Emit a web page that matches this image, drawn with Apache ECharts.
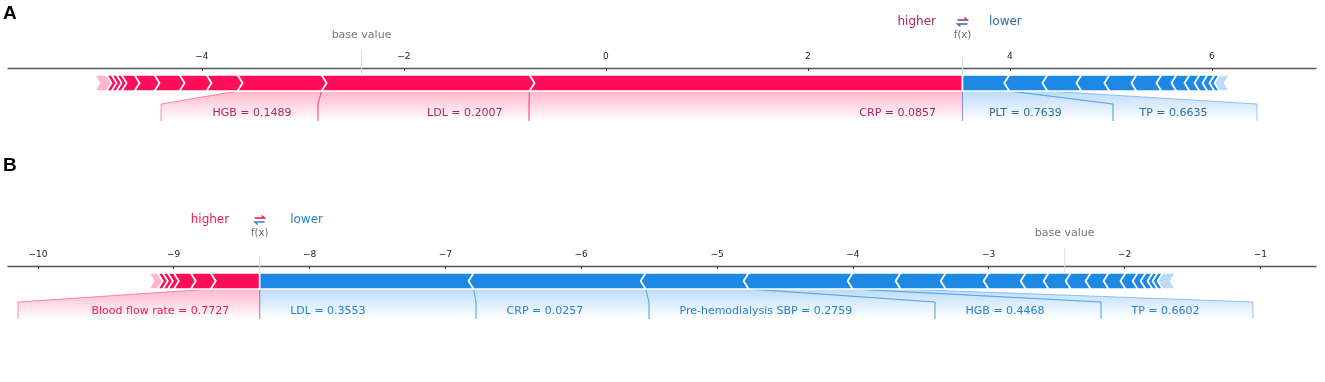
<!DOCTYPE html>
<html>
<head>
<meta charset="utf-8">
<script src="https://cdn.jsdelivr.net/npm/echarts@6/dist/echarts.min.js"></script>
<style>
  html, body { margin: 0; padding: 0; background: #fff; }
  #chart { width: 1325px; height: 382px; }
</style>
</head>
<body>
<div id="chart"></div>
<script>
// ---- panel A ----
var baseA = -2.42;
var rangeA = [-5.92, 7.03];
var ticksA = [-4, -2, 0, 2, 4, 6];
// red (push higher), ordered from f(x) outwards
var redNamesA = ['CRP = 0.0857', 'LDL = 0.2007', 'HGB = 0.1489'];
var redValuesA = [4.287, 2.059, 0.832, 0.307, 0.267, 0.248, 0.198, 0.128, 0.050, 0.049, 0.050, 0.119];
var redLabelLeftA = [-0.762, -2.851, -4.405];
// blue (push lower)
var blueNamesA = ['PLT = 0.7639', 'TP = 0.6635'];
var blueValuesA = [0.464, 0.377, 0.337, 0.277, 0.268, 0.247, 0.149, 0.129, 0.099, 0.079, 0.069, 0.050, 0.099];
var blueLabelRightA = [5.020, 6.446];

// ---- panel B ----
var baseB = -2.44;
var rangeB = [-10.22, -0.59];
var ticksB = [-10, -9, -8, -7, -6, -5, -4, -3, -2, -1];
var redNamesB = ['Blood flow rate = 0.7727'];
var redValuesB = [0.361, 0.147, 0.125, 0.044, 0.037, 0.037, 0.066];
var redLabelLeftB = [-10.146];
var blueNamesB = ['LDL = 0.3553', 'CRP = 0.0257', 'Pre-hemodialysis SBP = 0.2759', 'HGB = 0.4468', 'TP = 0.6602'];
var blueValuesB = [1.575, 1.267, 0.758, 0.766, 0.353, 0.332, 0.316, 0.273, 0.169, 0.162, 0.147, 0.132, 0.125, 0.089, 0.059, 0.051, 0.037, 0.037, 0.096];
var blueLabelRightB = [-6.774, -5.501, -3.395, -2.173, -1.054];

var RED = '#ff0d57', BLUE = '#1e88e5';
var RED_FADE = '#ffb6cd', BLUE_FADE = '#bbdbf7';
// vertical offsets (px below the axis line)
var BAR_TOP = 7, BAR_BOT = 23, CONN = 36, BOX_BOT = 53, TEXT_Y = 45, TIP = 5;

function sum(a) {
  return a.reduce(function (s, v) { return s + v; }, 0);
}
function rgba(hex, a) {
  var n = parseInt(hex.slice(1), 16);
  return 'rgba(' + (n >> 16) + ',' + ((n >> 8) & 255) + ',' + (n & 255) + ',' + a + ')';
}

var panels = [
  {
    base: baseA, fx: baseA + sum(redValuesA) - sum(blueValuesA),
    redNames: redNamesA, redValues: redValuesA, redLabelLeft: redLabelLeftA,
    blueNames: blueNamesA, blueValues: blueValuesA, blueLabelRight: blueLabelRightA,
    textRed: '#a8285f', textBlue: '#2b6ea3', arrowRed: '#b0285f', arrowBlue: '#2b6ea3', pad: 26.5
  },
  {
    base: baseB, fx: baseB + sum(redValuesB) - sum(blueValuesB),
    redNames: redNamesB, redValues: redValuesB, redLabelLeft: redLabelLeftB,
    blueNames: blueNamesB, blueValues: blueValuesB, blueLabelRight: blueLabelRightB,
    textRed: '#eb195a', textBlue: '#2882d2', arrowRed: RED, arrowBlue: BLUE, pad: 30.5
  }
];

// bar segments: [lo, hi, side, idx, faded]
function buildSegments(p) {
  var out = [], x = p.fx;
  p.redValues.forEach(function (v, i) {
    out.push([x - v, x, 1, i, i === p.redValues.length - 1 ? 1 : 0]);
    x -= v;
  });
  x = p.fx;
  p.blueValues.forEach(function (v, i) {
    out.push([x, x + v, -1, i, i === p.blueValues.length - 1 ? 1 : 0]);
    x += v;
  });
  return out;
}

// label boxes: [segLo, segHi, boxLo, boxHi, side, idx]
function buildLabels(p) {
  var out = [], x = p.fx;
  p.redNames.forEach(function (n, k) {
    var v = p.redValues[k];
    out.push([x - v, x, p.redLabelLeft[k], k === 0 ? p.fx : p.redLabelLeft[k - 1], 1, k]);
    x -= v;
  });
  x = p.fx;
  p.blueNames.forEach(function (n, k) {
    var v = p.blueValues[k];
    out.push([x, x + v, k === 0 ? p.fx : p.blueLabelRight[k - 1], p.blueLabelRight[k], -1, k]);
    x += v;
  });
  return out;
}

function barItem(p) {
  return function (params, api) {
    var lo = api.value(0), hi = api.value(1), side = api.value(2), idx = api.value(3), faded = api.value(4);
    var xl = api.coord([lo, BAR_TOP])[0], xr = api.coord([hi, BAR_TOP])[0];
    var yt = api.coord([lo, BAR_TOP])[1], yb = api.coord([lo, BAR_BOT])[1], ym = (yt + yb) / 2;
    var pts;
    if (side > 0) {
      pts = [[xl, yt], [xr, yt]];
      if (idx > 0) pts.push([xr + TIP, ym]);
      pts.push([xr, yb], [xl, yb], [xl + TIP, ym]);
    } else {
      pts = [[xl, yt], [xr, yt], [xr - TIP, ym], [xr, yb], [xl, yb]];
      if (idx > 0) pts.push([xl - TIP, ym]);
    }
    var fill = side > 0 ? (faded ? RED_FADE : RED) : (faded ? BLUE_FADE : BLUE);
    return {
      type: 'polygon',
      shape: { points: pts },
      style: { fill: fill, stroke: '#fff', lineWidth: 1.6, lineJoin: 'miter' }
    };
  };
}

function labelItem(p) {
  return function (params, api) {
    var segLo = api.value(0), segHi = api.value(1), boxLo = api.value(2), boxHi = api.value(3);
    var side = api.value(4), k = api.value(5);
    function P(x, y) { return api.coord([x, y]); }
    var color = side > 0 ? RED : BLUE;
    var a1 = P(segLo, BAR_BOT), a2 = P(segHi, BAR_BOT);
    var b1 = P(boxLo, CONN), b2 = P(boxHi, CONN);
    var c1 = P(boxLo, BOX_BOT), c2 = P(boxHi, BOX_BOT);
    var name = side > 0 ? p.redNames[k] : p.blueNames[k];
    var lineStyle = { stroke: rgba(color, 0.45), lineWidth: 1, fill: null };
    return {
      type: 'group',
      children: [
        {
          type: 'polygon',
          shape: { points: [a1, a2, b2, c2, c1, b1] },
          style: {
            fill: new echarts.graphic.LinearGradient(0, 0, 0, 1, [
              { offset: 0, color: rgba(color, 0.3) },
              { offset: 1, color: rgba(color, 0) }
            ])
          }
        },
        { type: 'polyline', shape: { points: [a1, b1, c1] }, style: lineStyle },
        { type: 'polyline', shape: { points: [a2, b2, c2] }, style: lineStyle },
        {
          type: 'text',
          x: side > 0 ? c2[0] - p.pad : c1[0] + p.pad,
          y: P(0, TEXT_Y)[1],
          style: {
            text: name, fill: side > 0 ? p.textRed : p.textBlue,
            fontSize: 11, fontFamily: 'DejaVu Sans',
            align: side > 0 ? 'right' : 'left', verticalAlign: 'middle'
          }
        }
      ]
    };
  };
}

function annoItem(p) {
  return function (params, api) {
    var fx = api.value(0), base = api.value(1);
    var xf = api.coord([fx, 0])[0], xb = api.coord([base, 0])[0];
    function Y(v) { return api.coord([fx, v])[1]; }
    var font = 'DejaVu Sans';
    return {
      type: 'group',
      children: [
        { type: 'line', shape: { x1: xb, y1: Y(-18), x2: xb, y2: Y(6) }, style: { stroke: '#dcdcdc', lineWidth: 1 } },
        { type: 'text', x: xb, y: Y(-33), style: { text: 'base value', fill: '#777', fontSize: 11, fontFamily: font, align: 'center', verticalAlign: 'middle' } },
        { type: 'line', shape: { x1: xf, y1: Y(-10), x2: xf, y2: Y(7) }, style: { stroke: '#dcdcdc', lineWidth: 1 } },
        { type: 'text', x: xf, y: Y(-33), style: { text: 'f(x)', fill: '#666', fontSize: 10, fontFamily: font, align: 'center', verticalAlign: 'middle' } },
        { type: 'text', x: xf - p.pad, y: Y(-46), style: { text: 'higher', fill: p.textRed, fontSize: 12, fontFamily: font, align: 'right', verticalAlign: 'middle' } },
        { type: 'text', x: xf + p.pad, y: Y(-46), style: { text: 'lower', fill: p.textBlue, fontSize: 12, fontFamily: font, align: 'left', verticalAlign: 'middle' } },
        // the little ⇄ sign
        { type: 'polyline', shape: { points: [[xf - 5, Y(-48)], [xf + 5, Y(-48)], [xf + 2, Y(-50.5)]] }, style: { stroke: p.arrowRed, lineWidth: 1.3, fill: null } },
        { type: 'polyline', shape: { points: [[xf + 5, Y(-44)], [xf - 5, Y(-44)], [xf - 2, Y(-41.5)]] }, style: { stroke: p.arrowBlue, lineWidth: 1.3, fill: null } }
      ]
    };
  };
}

function minusFmt(v) {
  return String(v).replace('-', '\u2212');
}

function makeXAxis(i, range, ticks) {
  return {
    gridIndex: i, type: 'value', position: 'top', min: range[0], max: range[1],
    axisLine: { onZero: false, lineStyle: { color: '#555', width: 1.3 } },
    axisTick: { inside: true, length: 3, customValues: ticks, lineStyle: { color: '#333' } },
    axisLabel: { customValues: ticks, formatter: minusFmt, fontSize: 9, color: '#222', margin: 7, fontFamily: 'DejaVu Sans' },
    splitLine: { show: false }
  };
}

var series = [];
panels.forEach(function (p, i) {
  series.push({ type: 'custom', xAxisIndex: i, yAxisIndex: i, renderItem: labelItem(p), data: buildLabels(p), silent: true, z: 1 });
  series.push({ type: 'custom', xAxisIndex: i, yAxisIndex: i, renderItem: barItem(p), data: buildSegments(p), silent: true, z: 2 });
  series.push({ type: 'custom', xAxisIndex: i, yAxisIndex: i, renderItem: annoItem(p), data: [[p.fx, p.base]], silent: true, z: 3 });
});

var chart = echarts.init(document.getElementById('chart'));
chart.setOption({
  animation: false,
  backgroundColor: '#fff',
  grid: [
    { left: 8, right: 9, top: 68, height: 60 },
    { left: 8, right: 9, top: 266, height: 60 }
  ],
  xAxis: [makeXAxis(0, rangeA, ticksA), makeXAxis(1, rangeB, ticksB)],
  yAxis: [
    { gridIndex: 0, type: 'value', min: 0, max: 60, inverse: true, show: false },
    { gridIndex: 1, type: 'value', min: 0, max: 60, inverse: true, show: false }
  ],
  graphic: [
    { type: 'text', x: 3, y: 14, style: { text: 'A', fontSize: 19, fontWeight: 'bold', fontFamily: 'Liberation Sans', fill: '#000', verticalAlign: 'middle' } },
    { type: 'text', x: 3, y: 166, style: { text: 'B', fontSize: 19, fontWeight: 'bold', fontFamily: 'Liberation Sans', fill: '#000', verticalAlign: 'middle' } }
  ],
  series: series
});
</script>
</body>
</html>
